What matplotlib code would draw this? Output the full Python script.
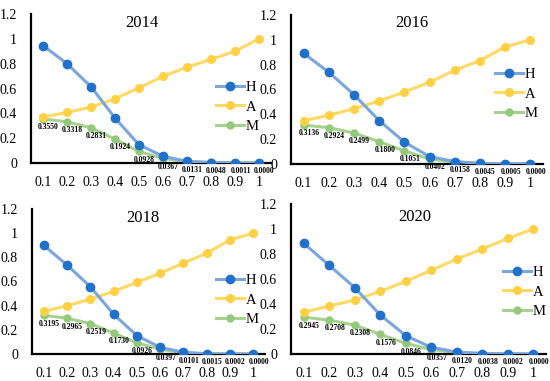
import matplotlib
matplotlib.use("Agg")
import matplotlib.pyplot as plt

plt.rcParams['font.family'] = ['Liberation Serif', 'DejaVu Serif']

x_labels = ["0.1", "0.2", "0.3", "0.4", "0.5", "0.6", "0.7", "0.8", "0.9", "1"]
years = ["2014", "2016", "2018", "2020"]

h_2014 = [0.946, 0.800, 0.614, 0.362, 0.147, 0.054, 0.013, 0.003, 0.001, 0.0]
a_2014 = [0.370, 0.407, 0.450, 0.517, 0.606, 0.697, 0.772, 0.834, 0.900, 1.0]
m_2014 = [0.3550, 0.3318, 0.2831, 0.1924, 0.0928, 0.0367, 0.0131, 0.0048, 0.0011, 0.0000]

h_2016 = [0.892, 0.739, 0.559, 0.349, 0.177, 0.059, 0.020, 0.005, 0.001, 0.0]
a_2016 = [0.349, 0.392, 0.446, 0.508, 0.580, 0.659, 0.755, 0.833, 0.944, 1.0]
m_2016 = [0.3136, 0.2924, 0.2499, 0.1800, 0.1051, 0.0402, 0.0158, 0.0045, 0.0005, 0.0000]

h_2018 = [0.900, 0.737, 0.557, 0.330, 0.152, 0.055, 0.014, 0.002, 0.0003, 0.0]
a_2018 = [0.352, 0.399, 0.454, 0.518, 0.593, 0.668, 0.753, 0.834, 0.945, 1.0]
m_2018 = [0.3195, 0.2965, 0.2519, 0.1730, 0.0926, 0.0397, 0.0101, 0.0015, 0.0002, 0.0000]

h_2020 = [0.885, 0.709, 0.531, 0.312, 0.147, 0.053, 0.016, 0.004, 0.0005, 0.0]
a_2020 = [0.333, 0.384, 0.432, 0.501, 0.581, 0.669, 0.760, 0.840, 0.925, 1.0]
m_2020 = [0.2945, 0.2708, 0.2308, 0.1576, 0.0846, 0.0357, 0.0120, 0.0038, 0.0002, 0.0000]

series = [(h_2014, a_2014, m_2014), (h_2016, a_2016, m_2016),
          (h_2018, a_2018, m_2018), (h_2020, a_2020, m_2020)]

W, H = 550, 381
# panel boxes in pixels: left, right, bottom(0), top(1.2)
boxes = [(31, 271, 163, 14), (291, 543, 164, 15), (32, 265, 354, 209), (291, 546, 354, 204)]
title_pos = [(0.46, 0.94), (0.48, 0.946), (0.476, 0.94), (0.486, 0.913)]
# legend anchor (left x px, center y px)
legend_pos = [(216, 107), (495, 94), (216, 300), (503, 292)]

fig = plt.figure(figsize=(W / 100, H / 100), dpi=100)

for i, (h, a, m) in enumerate(series):
    l, r, b, t = boxes[i]
    ax = fig.add_axes([l / W, (H - b) / H, (r - l) / W, (b - t) / H])
    xs = range(len(x_labels))
    lm, = ax.plot(xs, m, color="#a9d18e", lw=2.2, marker="o", ms=5,
                  mfc="#93c97b", mec="#93c97b", label="M", zorder=2)
    la, = ax.plot(xs, a, color="#ffd966", lw=2.2, marker="o", ms=5.5,
                  mfc="#ffd043", mec="#ffd043", label="A", zorder=3)
    lh, = ax.plot(xs, h, color="#7aa6dc", lw=2.2, marker="o", ms=6,
                  mfc="#2170c9", mec="#2170c9", label="H", zorder=4)
    for xi, v in zip(xs, m):
        ax.annotate(f"{v:.4f}", (xi, v), xytext=(4, -6), textcoords="offset points",
                    ha="center", va="center", fontsize=5.5, fontweight="bold", zorder=5)
    ax.set_xlim(-0.5, len(x_labels) - 0.5)
    ax.set_ylim(0, 1.2)
    ax.set_xticks(list(xs))
    ax.set_xticklabels(x_labels)
    ax.set_yticks([0, 0.2, 0.4, 0.6, 0.8, 1.0, 1.2])
    ax.set_yticklabels(["0", "0.2", "0.4", "0.6", "0.8", "1", "1.2"])
    ax.tick_params(length=0, labelsize=10)
    ax.tick_params(axis="y", pad=10)
    ax.tick_params(axis="x", pad=9.5)
    for s in ["top", "right"]:
        ax.spines[s].set_visible(False)
    for s in ["left", "bottom"]:
        ax.spines[s].set_linewidth(1.6)
    ax.patch.set_alpha(0)
    tx, ty = title_pos[i]
    ax.text(tx, ty, years[i], transform=ax.transAxes, ha="center", va="center", fontsize=12)
    lx, ly = legend_pos[i]
    ax.legend([lh, la, lm], ["H", "A", "M"], loc="center left",
              bbox_to_anchor=((lx - l) / (r - l), (b - ly) / (b - t)),
              frameon=False, fontsize=10.5, handlelength=1.9, handletextpad=0.15,
              labelspacing=0.45, borderaxespad=0, borderpad=0)

fig.savefig("out.png", dpi=100)
